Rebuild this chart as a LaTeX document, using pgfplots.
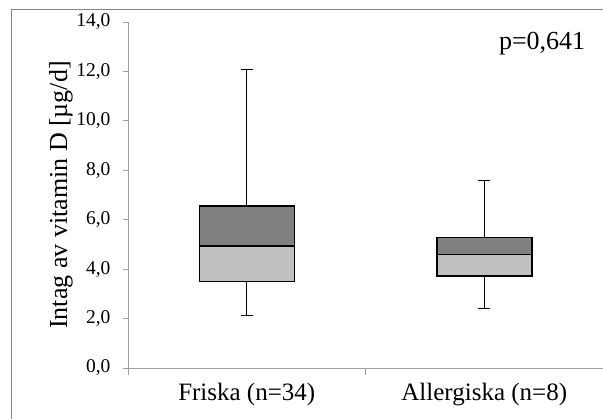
\documentclass[border=0pt]{standalone}
\usepackage{fontspec}
\setmainfont{Liberation Serif}
\usepackage{pgfplots}
\pgfplotsset{compat=1.18}
\usepgfplotslibrary{statistics}
\definecolor{darkbox}{RGB}{128,128,128}
\definecolor{lightbox}{RGB}{192,192,192}
\definecolor{axgray}{RGB}{160,160,160}
\definecolor{framegray}{RGB}{134,134,134}
\begin{document}
\begin{tikzpicture}
\useasboundingbox (0pt,0pt) rectangle (603pt,419pt);
\draw[framegray, line width=1.2pt] (11.5pt,409.5pt) rectangle (640pt,-20pt);
\begin{axis}[
  at={(128pt,51pt)}, anchor=south west,
  width=475pt, height=346pt, scale only axis,
  xmin=-0.5, xmax=1.5, ymin=0, ymax=14,
  axis x line*=bottom, axis y line*=left,
  axis line style={draw=axgray, line width=0.9pt, -},
  xtick={0,1}, xticklabels={Friska (n=34), Allergiska (n=8)},
  minor xtick={-0.5,0.5,1.5},
  ytick={0,2,...,14},
  tick align=outside,
  major tick length=5pt, minor tick length=7pt,
  tick style={draw=axgray, line width=0.9pt},
  major x tick style={draw=none},
  yticklabel={\pgfmathprintnumber[fixed, fixed zerofill, precision=1, use comma, assume math mode=true]{\tick}},
  every y tick label/.append style={font=\fontsize{19.5}{21}\selectfont, xshift=-9pt},
  every x tick label/.append style={font=\fontsize{25}{28}\selectfont, yshift=-7pt},
  ylabel={Intag av vitamin D [µg/d]},
  ylabel style={font=\fontsize{26}{30}\selectfont, at={(axis description cs:-0.141,0.5)}, anchor=center},
  boxplot/draw direction=y,
  clip=false,
]
% full box (Q1 to Q3) light gray with whiskers
\addplot[fill=lightbox, draw=black, line width=1.5pt,
  boxplot prepared={lower whisker=2.12, lower quartile=3.49, median=4.94,
    upper quartile=6.555, upper whisker=12.1, draw position=0,
    box extend=0.4, whisker extend=0.05,
    every whisker/.style={line width=0.8pt}}] coordinates {};
% upper half (median to Q3) dark gray
\addplot[fill=darkbox, draw=black, line width=1.5pt,
  boxplot prepared={lower whisker=4.94, lower quartile=4.94, median=4.94,
    upper quartile=6.555, upper whisker=6.555, draw position=0,
    box extend=0.4, whisker extend=0}] coordinates {};
\addplot[fill=lightbox, draw=black, line width=1.5pt,
  boxplot prepared={lower whisker=2.43, lower quartile=3.72, median=4.585,
    upper quartile=5.27, upper whisker=7.595, draw position=1,
    box extend=0.4, whisker extend=0.05,
    every whisker/.style={line width=0.8pt}}] coordinates {};
\addplot[fill=darkbox, draw=black, line width=1.5pt,
  boxplot prepared={lower whisker=4.585, lower quartile=4.585, median=4.585,
    upper quartile=5.27, upper whisker=5.27, draw position=1,
    box extend=0.4, whisker extend=0}] coordinates {};
\node[anchor=base east, font=\fontsize{26}{30}\selectfont] at (axis cs:1.44,12.87) {p=0,641};
\end{axis}
\end{tikzpicture}
\end{document}
